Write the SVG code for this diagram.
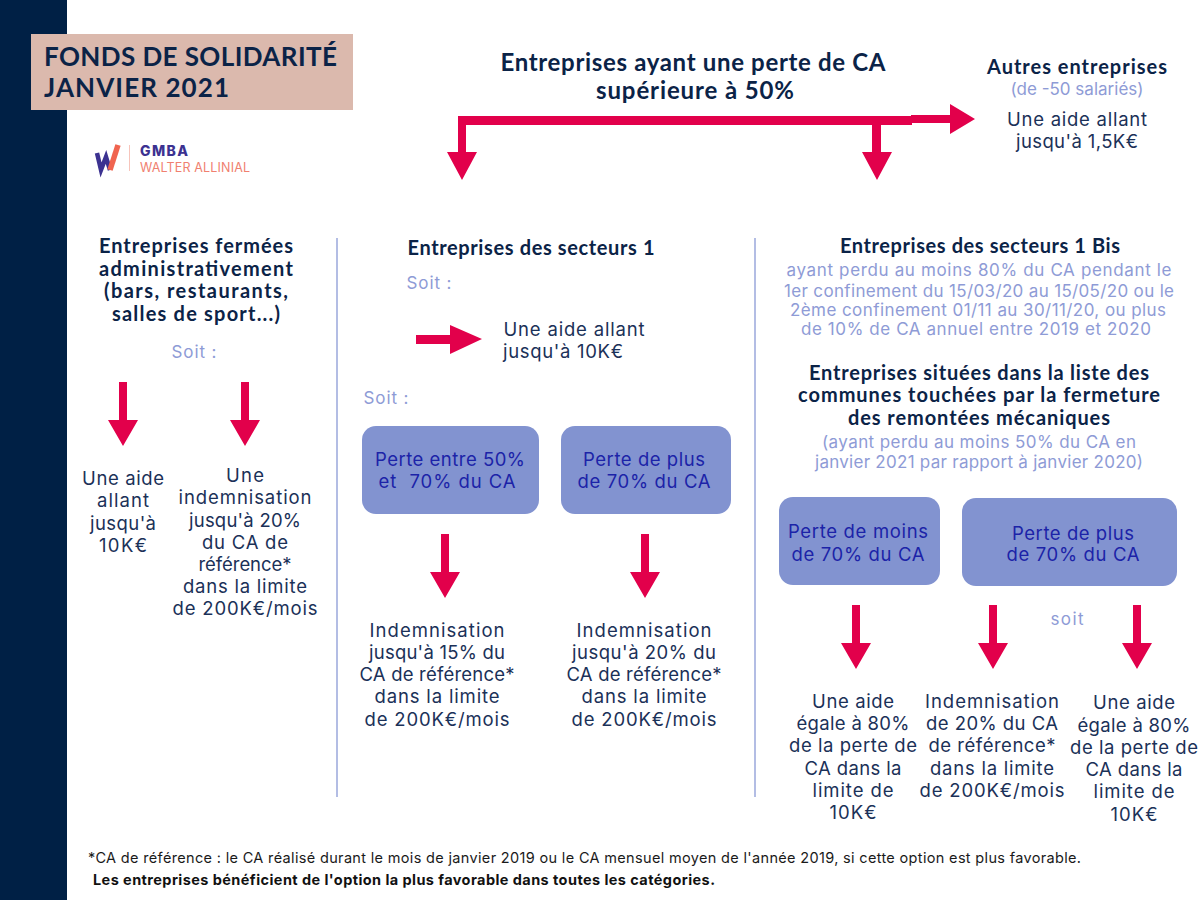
<svg xmlns="http://www.w3.org/2000/svg" width="1200" height="900" viewBox="0 0 1200 900">
<style>
text{text-anchor:middle}
.h{font:700 20px Lato,"Noto Sans",sans-serif;fill:#0b2347}
.b{font:400 18.500px Inter,"Noto Sans",sans-serif;fill:#1b3158}
.l{font:400 17px Inter,"Noto Sans",sans-serif;fill:#8e9bd6}
.c{font:400 18.500px Inter,"Noto Sans",sans-serif;fill:#1c23a8;white-space:pre}
.t{font:700 26px Lato,sans-serif;fill:#0b2347;text-anchor:start}
.f{font:400 14.500px Inter,sans-serif;fill:#1a1a1a;text-anchor:start}
.box{fill:#8293d0}
.ar{fill:#e2004b}
.div{stroke:#b3bde4;stroke-width:2}
</style>
<defs>
<path id="down" class="ar" d="M-4 0H4V38H15L0 64L-15 38H-4Z"/>
</defs>
<rect width="67" height="900" fill="#002045"/>
<g id="title">
<rect x="31" y="34" width="322" height="76" fill="#dbb9ad"/>
<text class="t" x="44" y="66" textLength="293">FONDS DE SOLIDARITÉ</text>
<text class="t" x="44" y="97" textLength="185">JANVIER 2021</text>
</g>
<g id="logo">
<path d="M97 153L101 170L106 157L110 170" fill="none" stroke="#3c3291" stroke-width="4.500"/>
<path d="M110 170L118 145" fill="none" stroke="#f0644f" stroke-width="5.500"/>
<line x1="129.500" y1="145" x2="129.500" y2="171" stroke="#f7c4bb"/>
<text x="140" y="156" style="font:800 14px Inter,sans-serif;fill:#3c3291;text-anchor:start" textLength="48">GMBA</text>
<text x="140" y="172" style="font:400 12.500px Inter,sans-serif;fill:#f0806f;text-anchor:start" textLength="110">WALTER ALLINIAL</text>
</g>
<g id="connectors">
<path class="ar" d="M458 116H912V125H466V152H477L462 180L447 152H458Z"/>
<path class="ar" d="M872 122H881V152H892L877 180L862 152H872Z"/>
<path class="ar" d="M911 115H950V104L975 119L950 134V123H911Z"/>
<path class="ar" d="M416 335H450V325L482 339L450 354V344H416Z"/>
<use href="#down" x="123" y="382"/>
<use href="#down" x="245" y="382"/>
<use href="#down" x="445" y="534"/>
<use href="#down" x="645" y="534"/>
<use href="#down" x="856" y="605"/>
<use href="#down" x="993" y="605"/>
<use href="#down" x="1137" y="605"/>
<line class="div" x1="337" y1="238" x2="337" y2="797"/>
<line class="div" x1="755" y1="238" x2="755" y2="797"/>
</g>
<g id="top">
<text class="h" x="693" y="71" style="font-size:24px" textLength="385">Entreprises ayant une perte de CA</text>
<text class="h" x="695" y="99" style="font-size:24px" textLength="198">supérieure à 50%</text>
</g>
<g id="autres">
<text class="h" x="1077" y="74" textLength="180">Autres entreprises</text>
<text class="l" x="1077" y="95" textLength="133">(de -50 salariés)</text>
<text class="b" x="1077" y="126" textLength="140">Une aide allant</text>
<text class="b" x="1077" y="148" textLength="122">jusqu'à 1,5K€</text>
</g>
<g id="fermees">
<text class="h" x="196" y="253" textLength="194">Entreprises fermées</text>
<text class="h" x="196" y="276" textLength="194">administrativement</text>
<text class="h" x="196" y="298" textLength="184">(bars, restaurants,</text>
<text class="h" x="196" y="321" textLength="168">salles de sport...)</text>
<text class="l" x="194" y="358" textLength="45">Soit :</text>
<text class="b" x="123" y="485" textLength="82">Une aide</text>
<text class="b" x="123" y="507" textLength="52">allant</text>
<text class="b" x="123" y="530" textLength="66">jusqu'à</text>
<text class="b" x="123" y="552" textLength="48">10K€</text>
<text class="b" x="245" y="482" textLength="38">Une</text>
<text class="b" x="245" y="504" textLength="133">indemnisation</text>
<text class="b" x="245" y="527" textLength="112">jusqu'à 20%</text>
<text class="b" x="245" y="549" textLength="86">du CA de</text>
<text class="b" x="245" y="571" textLength="93">référence*</text>
<text class="b" x="245" y="593" textLength="124">dans la limite</text>
<text class="b" x="245" y="615" textLength="145">de 200K€/mois</text>
</g>
<g id="secteurs1">
<text class="h" x="531" y="255" textLength="247">Entreprises des secteurs 1</text>
<text class="l" x="429" y="289" textLength="45">Soit :</text>
<text class="b" x="574" y="336" textLength="141">Une aide allant</text>
<text class="b" x="563" y="358" textLength="120">jusqu'à 10K€</text>
<text class="l" x="386" y="404" textLength="45">Soit :</text>
</g>
<g id="s1-box1">
<rect class="box" x="362" y="426" width="177" height="88" rx="14"/>
<text class="c" x="450" y="466" textLength="150">Perte entre 50%</text>
<text class="c" x="447" y="488" textLength="137">et  70% du CA</text>
</g>
<g id="s1-box2">
<rect class="box" x="561" y="426" width="170" height="88" rx="14"/>
<text class="c" x="644" y="466" textLength="122">Perte de plus</text>
<text class="c" x="644" y="488" textLength="133">de 70% du CA</text>
</g>
<g id="s1-res1">
<text class="b" x="437" y="637" textLength="135">Indemnisation</text>
<text class="b" x="437" y="659" textLength="136">jusqu'à 15% du</text>
<text class="b" x="437" y="681" textLength="155">CA de référence*</text>
<text class="b" x="437" y="703" textLength="125">dans la limite</text>
<text class="b" x="437" y="726" textLength="145">de 200K€/mois</text>
</g>
<g id="s1-res2">
<text class="b" x="644" y="637" textLength="135">Indemnisation</text>
<text class="b" x="644" y="659" textLength="144">jusqu'à 20% du</text>
<text class="b" x="644" y="681" textLength="155">CA de référence*</text>
<text class="b" x="644" y="703" textLength="125">dans la limite</text>
<text class="b" x="644" y="726" textLength="145">de 200K€/mois</text>
</g>
<g id="secteurs1bis">
<text class="h" x="980" y="253" textLength="280">Entreprises des secteurs 1 Bis</text>
<text class="l" x="979" y="276" textLength="385">ayant perdu au moins 80% du CA pendant le</text>
<text class="l" x="979" y="297" textLength="390">1er confinement du 15/03/20 au 15/05/20 ou le</text>
<text class="l" x="978" y="316" textLength="376">2ème confinement 01/11 au 30/11/20, ou plus</text>
<text class="l" x="976" y="335" textLength="350">de 10% de CA annuel entre 2019 et 2020</text>
</g>
<g id="communes">
<text class="h" x="979" y="380" textLength="340">Entreprises situées dans la liste des</text>
<text class="h" x="979" y="402" textLength="362">communes touchées par la fermeture</text>
<text class="h" x="979" y="425" textLength="262">des remontées mécaniques</text>
<text class="l" x="979" y="448" textLength="314">(ayant perdu au moins 50% du CA en</text>
<text class="l" x="979" y="468" textLength="328">janvier 2021 par rapport à janvier 2020)</text>
</g>
<g id="b-box1">
<rect class="box" x="779" y="497" width="161" height="88" rx="14"/>
<text class="c" x="858" y="538" textLength="140">Perte de moins</text>
<text class="c" x="858" y="561" textLength="133">de 70% du CA</text>
</g>
<g id="b-box2">
<rect class="box" x="962" y="498" width="215" height="88" rx="14"/>
<text class="c" x="1073" y="540" textLength="122">Perte de plus</text>
<text class="c" x="1073" y="561" textLength="133">de 70% du CA</text>
</g>
<text class="l" x="1067" y="625" textLength="33">soit</text>
<g id="b-res1">
<text class="b" x="853" y="708" textLength="82">Une aide</text>
<text class="b" x="853" y="730" textLength="113">égale à 80%</text>
<text class="b" x="853" y="752" textLength="128">de la perte de</text>
<text class="b" x="853" y="775" textLength="97">CA dans la</text>
<text class="b" x="853" y="797" textLength="81">limite de</text>
<text class="b" x="853" y="819" textLength="47">10K€</text>
</g>
<g id="b-res2">
<text class="b" x="992" y="708" textLength="134">Indemnisation</text>
<text class="b" x="992" y="730" textLength="132">de 20% du CA</text>
<text class="b" x="992" y="752" textLength="127">de référence*</text>
<text class="b" x="992" y="775" textLength="124">dans la limite</text>
<text class="b" x="992" y="797" textLength="145">de 200K€/mois</text>
</g>
<g id="b-res3">
<text class="b" x="1134" y="709" textLength="82">Une aide</text>
<text class="b" x="1134" y="732" textLength="113">égale à 80%</text>
<text class="b" x="1134" y="754" textLength="128">de la perte de</text>
<text class="b" x="1134" y="776" textLength="97">CA dans la</text>
<text class="b" x="1134" y="798" textLength="81">limite de</text>
<text class="b" x="1134" y="821" textLength="47">10K€</text>
</g>
<g id="notes">
<text class="f" x="88" y="863" textLength="993">*CA de référence : le CA réalisé durant le mois de janvier 2019 ou le CA mensuel moyen de l'année 2019, si cette option est plus favorable.</text>
<text class="f" x="93" y="885" textLength="622" style="font-weight:700;fill:#111">Les entreprises bénéficient de l'option la plus favorable dans toutes les catégories.</text>
</g>
</svg>
